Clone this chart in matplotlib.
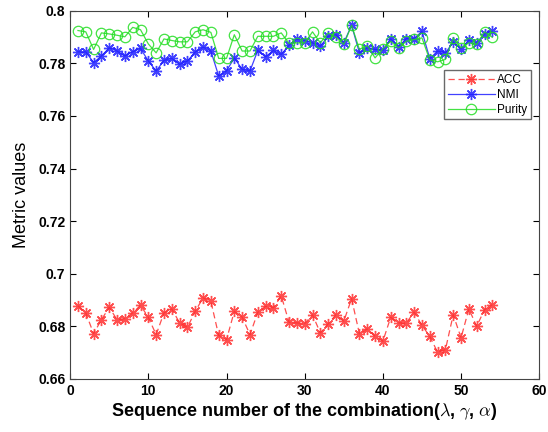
import matplotlib
matplotlib.use("Agg")
import matplotlib.pyplot as plt
import numpy as np

seq = list(range(1, 55))
acc = [0.6878, 0.6851, 0.6772, 0.6825, 0.6872, 0.6825, 0.6829, 0.6851, 0.6880, 0.6834,
       0.6768, 0.6851, 0.6866, 0.6813, 0.6796, 0.6857, 0.6908, 0.6895, 0.6765, 0.6749,
       0.6857, 0.6835, 0.6768, 0.6853, 0.6876, 0.6870, 0.6916, 0.6815, 0.6813, 0.6810,
       0.6844, 0.6775, 0.6809, 0.6844, 0.6819, 0.6905, 0.6771, 0.6790, 0.6762, 0.6743,
       0.6834, 0.6813, 0.6813, 0.6854, 0.6803, 0.6762, 0.6701, 0.6711, 0.6844, 0.6756,
       0.6866, 0.6800, 0.6863, 0.6882]
nmi = [0.7844, 0.7844, 0.7803, 0.7828, 0.7859, 0.7847, 0.7828, 0.7844, 0.7857, 0.7809,
       0.7771, 0.7811, 0.7819, 0.7796, 0.7809, 0.7843, 0.7862, 0.7847, 0.7752, 0.7771,
       0.7821, 0.7777, 0.7771, 0.7849, 0.7825, 0.7849, 0.7834, 0.7869, 0.7893, 0.7887,
       0.7878, 0.7865, 0.7903, 0.7909, 0.7878, 0.7945, 0.7840, 0.7859, 0.7853, 0.7850,
       0.7893, 0.7863, 0.7894, 0.7894, 0.7922, 0.7818, 0.7847, 0.7840, 0.7881, 0.7855,
       0.7888, 0.7878, 0.7912, 0.7922]
purity = [0.7925, 0.7920, 0.7853, 0.7916, 0.7912, 0.7907, 0.7901, 0.7937, 0.7928, 0.7874,
          0.7840, 0.7893, 0.7887, 0.7882, 0.7882, 0.7920, 0.7928, 0.7918, 0.7819, 0.7819,
          0.7909, 0.7847, 0.7847, 0.7903, 0.7903, 0.7903, 0.7916, 0.7876, 0.7878, 0.7878,
          0.7920, 0.7878, 0.7916, 0.7899, 0.7872, 0.7945, 0.7853, 0.7868, 0.7821, 0.7855,
          0.7884, 0.7859, 0.7884, 0.7891, 0.7897, 0.7813, 0.7806, 0.7815, 0.7897, 0.7859,
          0.7878, 0.7872, 0.7920, 0.7899]

plt.rcParams['font.family'] = ['Liberation Sans', 'DejaVu Sans']
plt.rcParams['mathtext.fontset'] = 'cm'

fig = plt.figure(figsize=(5.48, 4.32), dpi=100)
ax = fig.add_axes([0.128, 0.123, 0.856, 0.852])

ast = (8, 2, 0)
ax.plot(seq, acc, linestyle=(0, (5, 3)), color='#ff3030', marker=ast, markersize=8,
        markeredgewidth=1.0, linewidth=0.9, label='ACC', alpha=0.85)
ax.plot(seq, nmi, linestyle='-', color='#2020ff', marker=ast, markersize=8,
        markeredgewidth=1.0, linewidth=0.9, label='NMI', alpha=0.85)
ax.plot(seq, purity, linestyle='-', color='#22dd22', marker='o', markersize=7.5,
        markerfacecolor='none', markeredgewidth=0.9, linewidth=0.9, label='Purity', alpha=0.85)

ax.set_xlim(0, 60)
ax.set_ylim(0.66, 0.8)
ax.set_xticks([0, 10, 20, 30, 40, 50, 60])
ax.set_yticks([0.66, 0.68, 0.7, 0.72, 0.74, 0.76, 0.78, 0.8])
ax.set_yticklabels(['0.66', '0.68', '0.7', '0.72', '0.74', '0.76', '0.78', '0.8'])
ax.tick_params(direction='in', top=True, right=True, length=4, width=0.8,
               labelsize=10)
for lab in ax.get_xticklabels() + ax.get_yticklabels():
    lab.set_fontweight('bold')
for s in ax.spines.values():
    s.set_linewidth(0.8)
    s.set_color('#444444')

ax.set_xlabel('Sequence number of the combination($\\lambda$, $\\gamma$, $\\alpha$)',
              fontsize=13, fontweight='bold', labelpad=2)
ax.set_ylabel('Metric values', fontsize=13, labelpad=6)

leg = ax.legend(loc='upper right', bbox_to_anchor=(0.995, 0.854), fontsize=8.5,
                frameon=True, fancybox=False, edgecolor='#444444', numpoints=1,
                handlelength=4.0, borderpad=0.3, labelspacing=0.25, handletextpad=0.2)
leg.get_frame().set_linewidth(1.0)

fig.savefig('out.png', dpi=100)
